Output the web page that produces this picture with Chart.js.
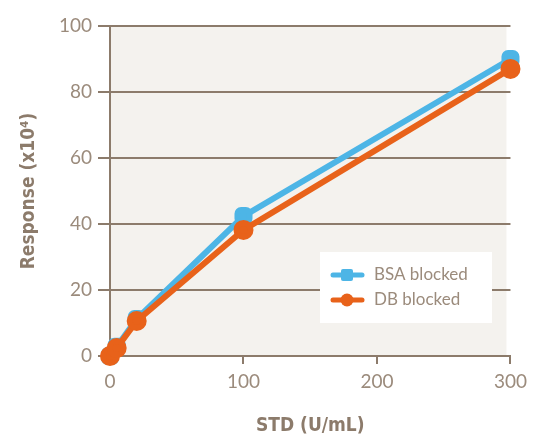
<!DOCTYPE html>
<html>
<head>
<meta charset="utf-8">
<script src="https://cdn.jsdelivr.net/npm/chart.js@4"></script>
<style>
  html, body { margin: 0; padding: 0; background: #fff; }
  #wrap { width: 533px; height: 434px; position: relative; }
</style>
</head>
<body>
<div id="wrap"><canvas id="myChart"></canvas></div>
<script>
// data
const stdValues = [0, 5, 20, 100, 300];
const bsaBlocked = [0, 2.8, 11.2, 42.4, 90];
const dbBlocked = [0, 2.4, 10.6, 38.2, 87];
const seriesNames = ["BSA blocked", "DB blocked"];
const yTicks = [0, 20, 40, 60, 80, 100];
const xTicks = [0, 100, 200, 300];

const axisColor = "#8c7b6b";
const textColor = "#9b8b7c";
const blue = "#4db5e6";
const orange = "#e8621a";

const toPoints = ys => stdValues.map((x, i) => ({ x: x, y: ys[i] }));

// grey panel behind the plot
const panelBg = {
    id: "panelBg",
    beforeDraw(chart) {
        const a = chart.chartArea;
        const ctx = chart.ctx;
        ctx.save();
        ctx.fillStyle = "#f4f2ee";
        ctx.fillRect(a.left, a.top, a.right - a.left - 4, a.bottom - a.top);
        ctx.restore();
    }
};

// legend box inside the plot
const boxLegend = {
    id: "boxLegend",
    afterDraw(chart) {
        const ctx = chart.ctx;
        ctx.save();
        ctx.fillStyle = "#ffffff";
        ctx.fillRect(320, 252, 172, 71);
        const rows = [
            { name: seriesNames[0], color: blue, style: "rect", y: 275 },
            { name: seriesNames[1], color: orange, style: "circle", y: 300 }
        ];
        rows.forEach(r => {
            ctx.strokeStyle = r.color;
            ctx.lineWidth = 5;
            ctx.lineCap = "round";
            ctx.beginPath();
            ctx.moveTo(333, r.y);
            ctx.lineTo(362, r.y);
            ctx.stroke();
            ctx.fillStyle = r.color;
            if (r.style === "rect") {
                ctx.beginPath();
                ctx.roundRect(341, r.y - 6, 12, 12, 2);
                ctx.fill();
            } else {
                ctx.beginPath();
                ctx.arc(347, r.y, 6.5, 0, Math.PI * 2);
                ctx.fill();
            }
            ctx.fillStyle = textColor;
            ctx.font = "17px Lato, 'Open Sans', sans-serif";
            ctx.textBaseline = "middle";
            ctx.fillText(r.name, 374, r.y);
        });
        ctx.restore();
    }
};

const ctx = document.getElementById("myChart").getContext("2d");
new Chart(ctx, {
    type: "scatter",
    data: {
        datasets: [{
            label: seriesNames[0],
            data: toPoints(bsaBlocked),
            showLine: true,
            borderColor: blue,
            backgroundColor: blue,
            borderWidth: 6,
            pointStyle: "rectRounded",
            pointRadius: 7,
            pointHoverRadius: 7,
            order: 1,
            clip: false
        }, {
            label: seriesNames[1],
            data: toPoints(dbBlocked),
            showLine: true,
            borderColor: orange,
            backgroundColor: orange,
            borderWidth: 6,
            pointStyle: "circle",
            pointRadius: 7,
            pointHoverRadius: 7,
            order: 0,
            clip: false
        }]
    },
    options: {
        responsive: true,
        maintainAspectRatio: false,
        animation: false,
        layout: {
            padding: { top: 26, right: 21, left: 0, bottom: 0 }
        },
        plugins: {
            legend: { display: false },
            tooltip: { enabled: false }
        },
        scales: {
            x: {
                type: "linear",
                min: 0,
                max: 300,
                afterBuildTicks: axis => { axis.ticks = xTicks.map(v => ({ value: v })); },
                afterFit: axis => { axis.height = 78; },
                border: { color: axisColor, width: 2 },
                grid: {
                    drawOnChartArea: false,
                    drawTicks: true,
                    tickLength: 8,
                    color: axisColor,
                    lineWidth: 2
                },
                ticks: {
                    color: textColor,
                    font: { family: "Lato, 'Open Sans', sans-serif", size: 19 },
                    padding: 6
                },
                title: {
                    display: true,
                    text: "STD (U/mL)",
                    color: axisColor,
                    font: { family: "'Liberation Sans Narrow', 'DejaVu Sans Condensed', sans-serif", size: 19, weight: "bold" },
                    padding: { top: 15, bottom: -3 }
                }
            },
            y: {
                min: 0,
                max: 100,
                afterBuildTicks: axis => { axis.ticks = yTicks.map(v => ({ value: v })); },
                afterFit: axis => { axis.width = 110; },
                border: { color: axisColor, width: 2 },
                grid: {
                    drawOnChartArea: true,
                    drawTicks: true,
                    tickLength: 12,
                    color: axisColor,
                    lineWidth: 2
                },
                ticks: {
                    color: textColor,
                    font: { family: "Lato, 'Open Sans', sans-serif", size: 19 },
                    padding: 6
                },
                title: {
                    display: true,
                    text: "Response (x10⁴)",
                    color: axisColor,
                    font: { family: "'Liberation Sans Narrow', 'DejaVu Sans Condensed', sans-serif", size: 19, weight: "bold" },
                    padding: { top: 18, bottom: 0 }
                }
            }
        }
    },
    plugins: [panelBg, boxLegend]
});
</script>
</body>
</html>
